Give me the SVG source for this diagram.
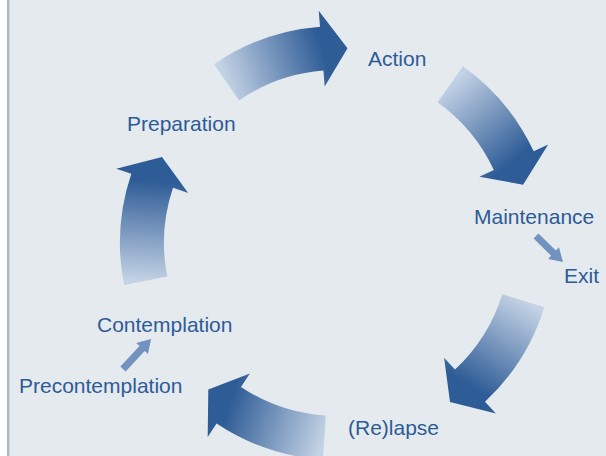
<svg xmlns="http://www.w3.org/2000/svg" width="606" height="456" viewBox="0 0 606 456">
  <style>
    .lbl { font-family: "Liberation Sans", Arial, sans-serif; font-size: 21px; fill: #2e5b97; }
    .small { fill: #7193bd; }
  </style>
  <defs>
    <linearGradient id="gTop" gradientUnits="userSpaceOnUse" x1="226" y1="82" x2="322" y2="49">
      <stop offset="0" stop-color="#c3d2e5"/>
      <stop offset="1" stop-color="#2e5c96"/>
    </linearGradient>
    <linearGradient id="gRight" gradientUnits="userSpaceOnUse" x1="450" y1="84" x2="514" y2="161">
      <stop offset="0" stop-color="#c3d2e5"/>
      <stop offset="1" stop-color="#2e5c96"/>
    </linearGradient>
    <linearGradient id="gBR" gradientUnits="userSpaceOnUse" x1="523" y1="301" x2="470" y2="386">
      <stop offset="0" stop-color="#c3d2e5"/>
      <stop offset="1" stop-color="#2e5c96"/>
    </linearGradient>
    <linearGradient id="gBL" gradientUnits="userSpaceOnUse" x1="324" y1="437" x2="229" y2="405">
      <stop offset="0" stop-color="#c3d2e5"/>
      <stop offset="1" stop-color="#2e5c96"/>
    </linearGradient>
    <linearGradient id="gLeft" gradientUnits="userSpaceOnUse" x1="146" y1="281" x2="152" y2="181">
      <stop offset="0" stop-color="#c3d2e5"/>
      <stop offset="1" stop-color="#2e5c96"/>
    </linearGradient>
  </defs>

  <rect x="0" y="0" width="606" height="456" fill="#ffffff"/>
  <rect x="10" y="0" width="596" height="456" fill="#e5eaee"/>
  <rect x="7" y="0" width="2" height="456" fill="#a9b9ca"/>
  <rect x="9" y="0" width="1" height="456" fill="#c9d4de"/>

  <g id="connectors">
    <path id="arrow-prep-action" fill="url(#gTop)" d="M214.1,64.2 A217,217 0 0 1 320.0,26.7 L318.7,10.7 L347.5,48.3 L324.7,86.5 L323.4,70.5 A173,173 0 0 0 239.0,100.4 Z"/>
    <path id="arrow-action-maint" fill="url(#gRight)" d="M463.0,66.3 A217,217 0 0 1 533.7,151.3 L548.2,144.5 L523.1,184.7 L479.3,176.7 L493.8,169.9 A173,173 0 0 0 437.5,102.2 Z"/>
    <path id="arrow-exit-relapse" fill="url(#gBR)" d="M544.3,307.2 A217,217 0 0 1 485.0,401.7 L495.9,413.4 L450.0,401.9 L444.1,357.8 L455.0,369.5 A173,173 0 0 0 502.3,294.2 Z"/>
    <path id="arrow-relapse-precon" fill="url(#gBL)" d="M323.0,459.5 A217,217 0 0 1 216.6,423.5 L207.7,436.9 L208.3,389.5 L249.9,373.6 L241.0,386.9 A173,173 0 0 0 325.8,415.6 Z"/>
    <path id="arrow-contemp-prep" fill="url(#gLeft)" d="M124.1,285.1 A217,217 0 0 1 131.3,173.8 L116.2,168.7 L162.0,156.9 L188.2,192.9 L173.0,187.8 A173,173 0 0 0 167.3,276.6 Z"/>
    <polygon id="arrow-maint-exit" class="small" points="538.4,233.4 555.9,250.6 558.9,247.3 563,262 548.1,259.1 551.1,255.8 533.6,238.6"/>
    <polygon id="arrow-precon-contemp" class="small" points="120.4,366.6 139.5,346.1 136.2,343.0 151,339 148.0,354.0 144.7,350.9 125.6,371.4"/>
  </g>

  <g id="node-action"><text class="lbl" x="368" y="66">Action</text></g>
  <g id="node-preparation"><text class="lbl" x="127" y="131">Preparation</text></g>
  <g id="node-maintenance"><text class="lbl" x="474" y="224">Maintenance</text></g>
  <g id="node-exit"><text class="lbl" x="564" y="283">Exit</text></g>
  <g id="node-contemplation"><text class="lbl" x="97" y="332">Contemplation</text></g>
  <g id="node-precontemplation"><text class="lbl" x="19" y="393">Precontemplation</text></g>
  <g id="node-relapse"><text class="lbl" x="348" y="435">(Re)lapse</text></g>
</svg>
